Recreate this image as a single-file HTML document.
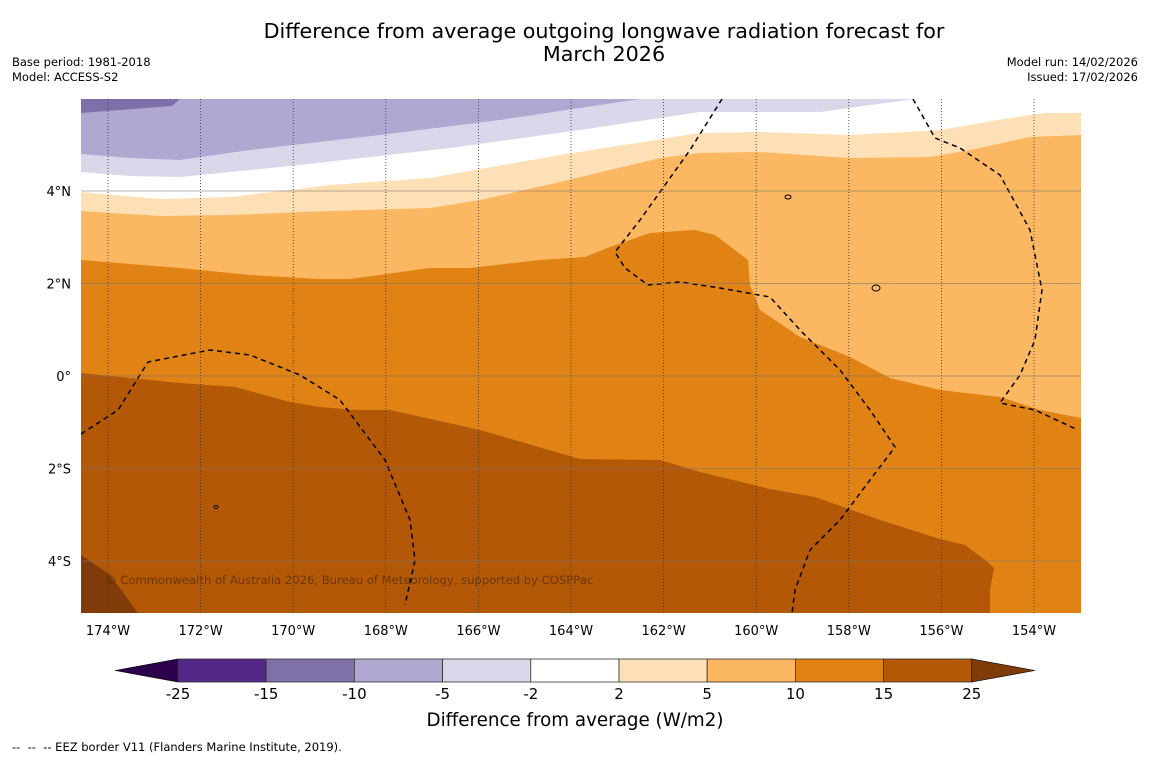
<!DOCTYPE html>
<html><head><meta charset="utf-8"><style>
body{margin:0;background:#fff;width:1150px;height:758px;overflow:hidden;font-family:"DejaVu Sans","Liberation Sans",sans-serif}
svg text{font-family:"DejaVu Sans","Liberation Sans",sans-serif}
</style></head><body>
<svg width="1150" height="758" viewBox="0 0 1150 758">
<text x="604" y="38" font-size="20.7" text-anchor="middle">Difference from average outgoing longwave radiation forecast for</text>
<text x="604" y="61" font-size="20.7" text-anchor="middle">March 2026</text>
<text x="12" y="66" font-size="11.5">Base period: 1981-2018</text>
<text x="12" y="81" font-size="11.5">Model: ACCESS-S2</text>
<text x="1138" y="66" font-size="11.5" text-anchor="end">Model run: 14/02/2026</text>
<text x="1138" y="81" font-size="11.5" text-anchor="end">Issued: 17/02/2026</text>
<defs><clipPath id="mc"><rect x="81" y="99" width="1000" height="514"/></clipPath></defs>
<g clip-path="url(#mc)">
<rect x="81" y="99" width="1000" height="514" fill="#b1a8d1"/>
<polygon fill="#7f70aa" points="81,99 180,99 172,106 120,110 81,113"/>
<polygon fill="#d9d8ea" points="81,154 130,158 180,160 250,150 380,135 500,120 600,105 640,99 1081,99 1081,200 81,200"/>
<polygon fill="#ffffff" points="81,172 130,176 180,177 300,165 450,148 580,130 700,112 820,112 915,99 1081,99 1081,220 81,220"/>
<polygon fill="#fee0b6" points="81,192 160,199 230,197 330,185 430,178 560,155 700,133 760,132 850,135 940,130 1010,118 1045,113 1081,113 1081,250 81,250"/>
<polygon fill="#fbb761" points="81,211 160,216 230,215 330,211 430,208 480,200 560,182 660,158 700,153 760,152 850,158 930,157 970,150 1030,137 1081,135 1081,613 81,613"/>
<polygon fill="#e08214" points="81,260 180,268 250,275 320,279 350,279 430,268 470,268 540,260 585,257 610,247 650,233 695,230 715,235 748,260 750,285 760,310 800,337 850,357 890,378 940,390 1000,397 1040,410 1081,418 1081,613 81,613"/>
<polygon fill="#b35806" points="81,373 130,378 180,383 235,387 290,402 320,407 355,410 390,410 480,430 580,459 660,460 700,472 770,489 815,497 880,520 940,539 965,545 985,560 994,568 990,590 990,613 81,613"/>
<polygon fill="#7f3b08" points="81,555 110,575 138,613 81,613"/>
<g fill="none" stroke="#000" stroke-width="1.5" stroke-dasharray="5,4">
<polyline points="81,434 118,410 148,362 210,350 250,355 300,375 340,400 385,460 410,520 415,560 405,605"/>
<polyline points="722,99 690,150 640,220 615,252 625,268 648,285 680,282 720,288 770,297 800,330 840,370 870,410 895,447 870,480 840,520 810,550 795,590 792,613"/>
<polyline points="913,99 935,138 960,148 1000,175 1030,230 1042,290 1035,340 1020,375 1000,403 1035,410 1078,430"/>
</g>
<g fill="none" stroke="#000" stroke-width="1">
<ellipse cx="788" cy="197" rx="3" ry="2"/><ellipse cx="876" cy="288" rx="4" ry="3"/><ellipse cx="216" cy="507" rx="2" ry="1.5"/>
</g>
<g id="grid"></g>
<text x="105" y="584" font-size="11.6" fill="#5a3000" fill-opacity="0.8">© Commonwealth of Australia 2026, Bureau of Meteorology, supported by COSPPac</text>
</g>
<g id="axes"></g>
<g id="cbar"></g>
<text x="575" y="726" font-size="18.3" text-anchor="middle">Difference from average (W/m2)</text>
<text x="12" y="751" font-size="11.5" xml:space="preserve">--  --  -- EEZ border V11 (Flanders Marine Institute, 2019).</text>
</svg>
<script>
const lonTicks=[-174,-172,-170,-168,-166,-164,-162,-160,-158,-156,-154];
const latTicks=[4,2,0,-2,-4];
const cbLevels=[-25,-15,-10,-5,-2,2,5,10,15,25];
const cbColors=["#542788","#7f70aa","#b1a8d1","#d9d8ea","#ffffff","#fee0b6","#fbb761","#e08214","#b35806"];
const NS="http://www.w3.org/2000/svg";
const xLon=l=>108+(l+174)*46.3;
const yLat=l=>376-l*46.25;
function mk(t,a,p){const e=document.createElementNS(NS,t);for(const k in a)e.setAttribute(k,a[k]);p.appendChild(e);return e;}
const g=document.getElementById('grid'),ax=document.getElementById('axes'),cb=document.getElementById('cbar');
lonTicks.forEach(l=>{const x=xLon(l);
const ln=mk('line',{x1:x,x2:x,y1:99,y2:613,stroke:'#333','stroke-width':0.8,'stroke-dasharray':'1,2'},g);


const t=mk('text',{x:x,y:635,'font-size':13,'text-anchor':'middle'},ax);t.textContent=Math.abs(l)+'°W';

});
latTicks.forEach(l=>{const y=yLat(l);
const ln=mk('line',{x1:81,x2:1081,y1:y,y2:y,stroke:'#777','stroke-opacity':0.55,'stroke-width':1},g);


const t=mk('text',{x:71,y:y+5,'font-size':13,'text-anchor':'end'},ax);t.textContent=l===0?'0°':Math.abs(l)+'°'+(l>0?'N':'S');

});
const cx0=178,cw=88.2,cy=659,ch=23;
const lt=mk('polygon',{points:`${cx0},${cy} ${cx0},${cy+ch} 115,${cy+ch/2}`,fill:'#2d004b',stroke:'#000','stroke-width':0.6},cb);


cbColors.forEach((c,i)=>{const r=mk('rect',{x:cx0+i*cw,y:cy,width:cw,height:ch,fill:c,stroke:'#333','stroke-width':0.8},cb);

});
const re=cx0+cbColors.length*cw;
const rt=mk('polygon',{points:`${re},${cy} ${re},${cy+ch} 1035,${cy+ch/2}`,fill:'#7f3b08',stroke:'#000','stroke-width':0.6},cb);


cbLevels.forEach((v,i)=>{const t=mk('text',{x:cx0+i*cw,y:699,'font-size':15,'text-anchor':'middle'},cb);t.textContent=v;

});
</script>
</body></html>
